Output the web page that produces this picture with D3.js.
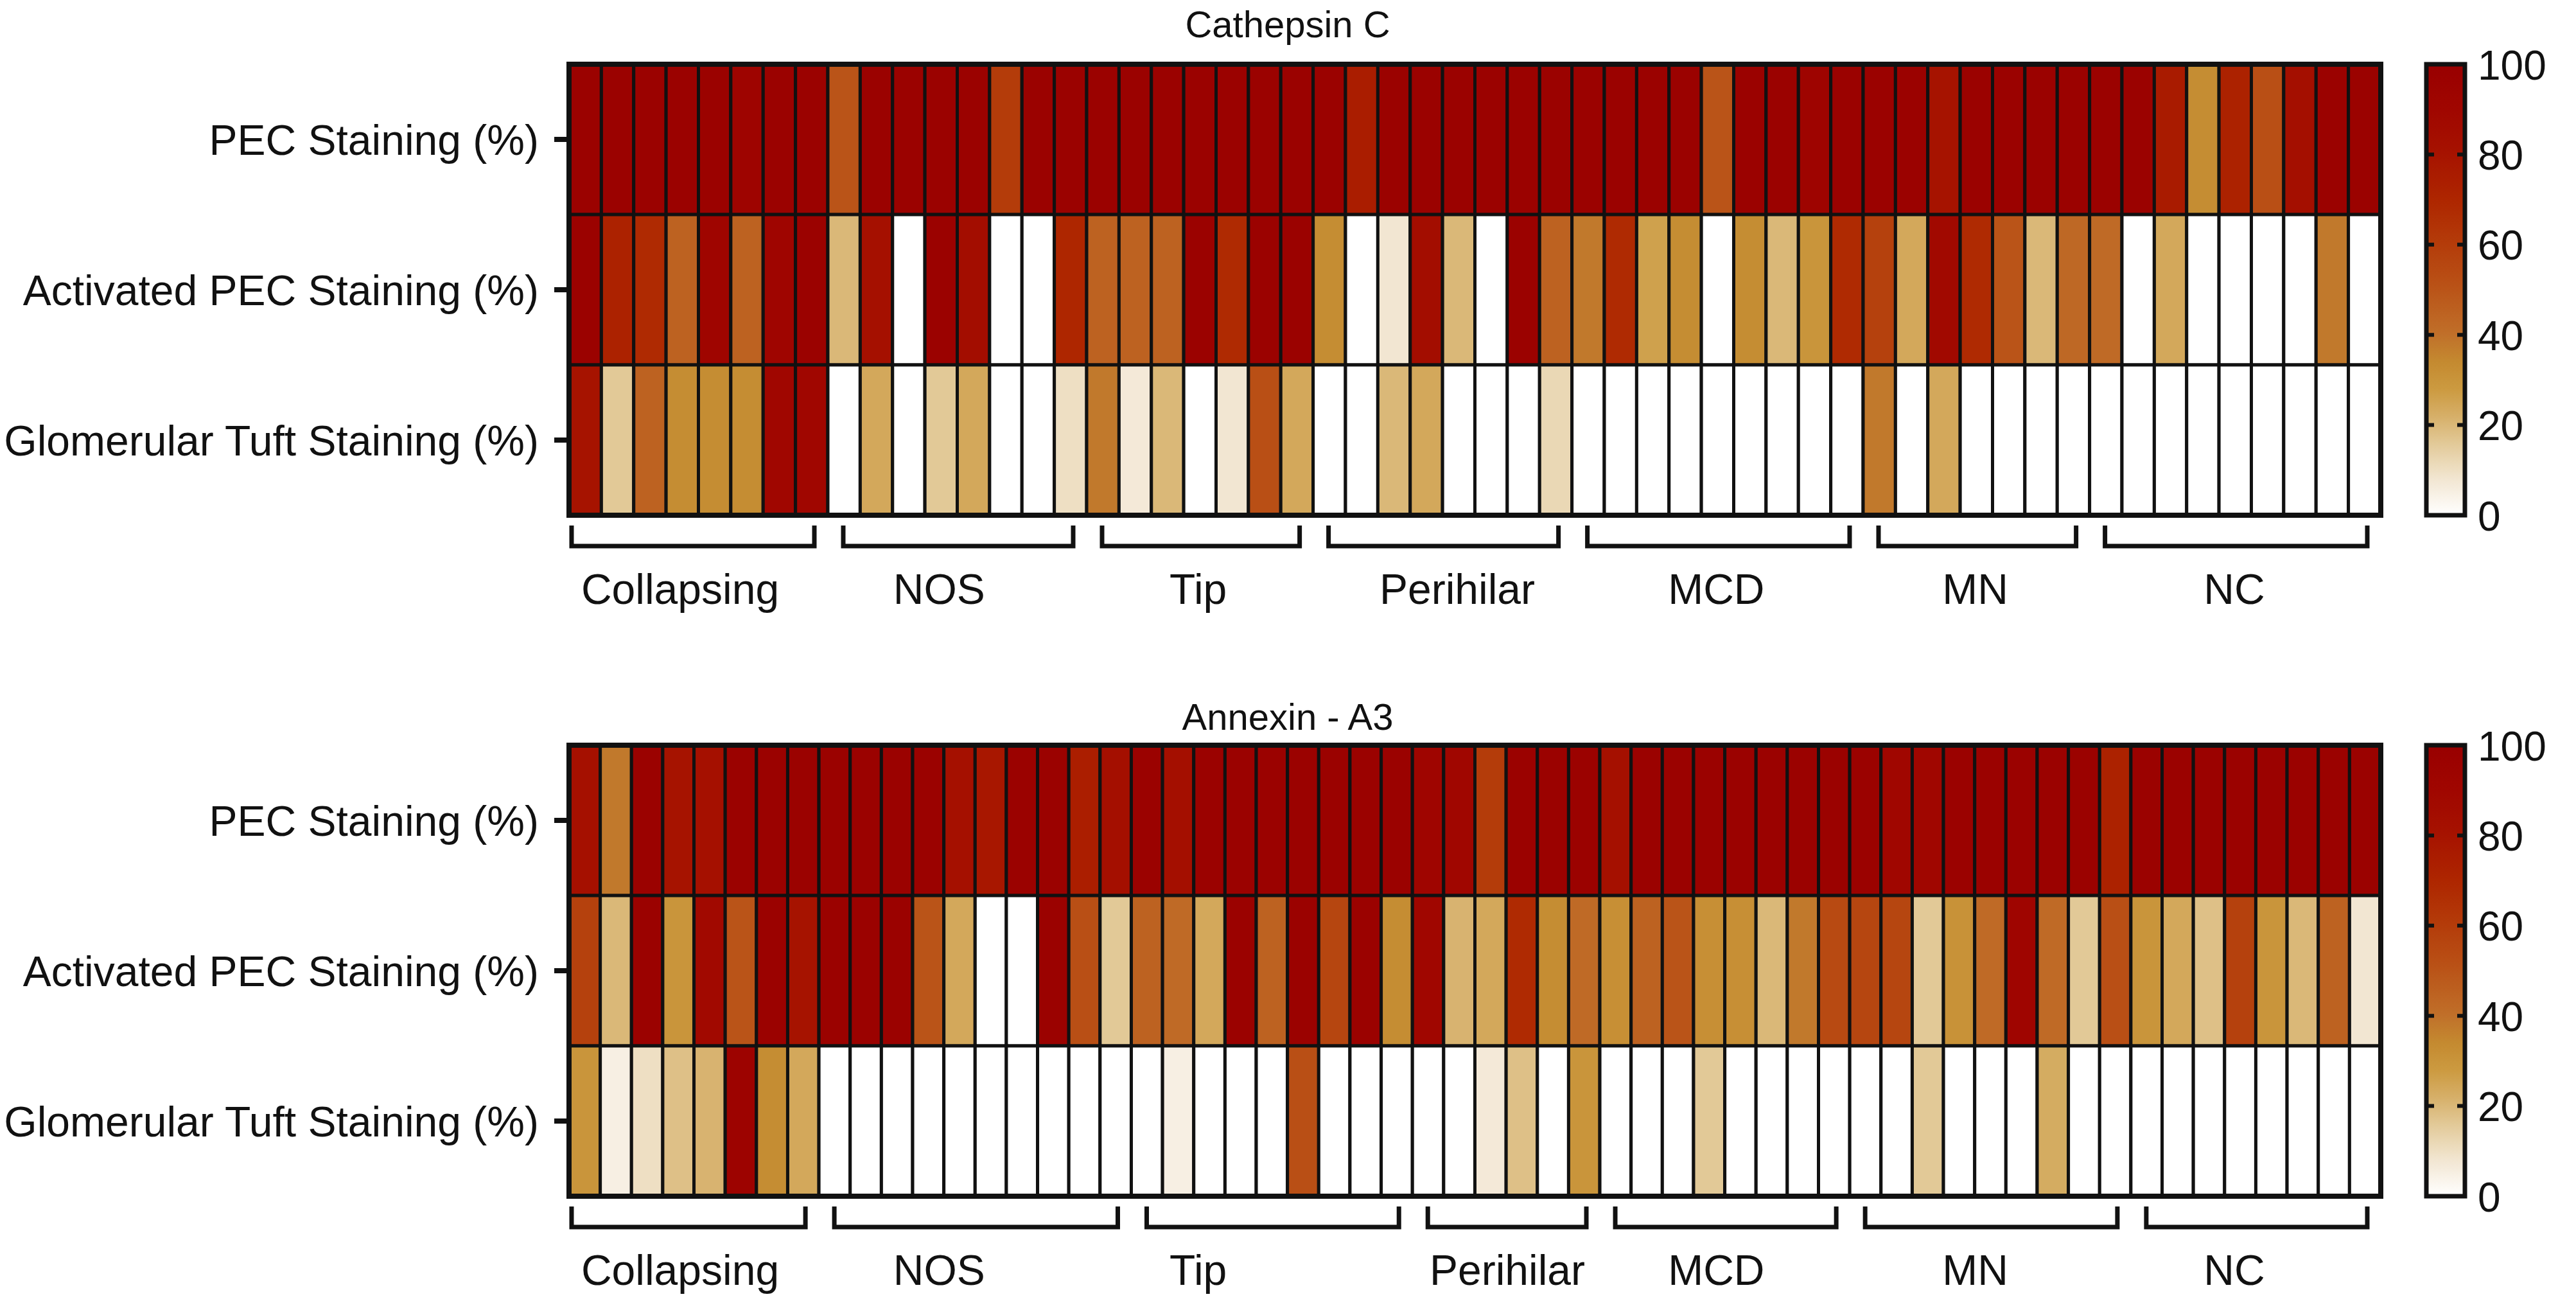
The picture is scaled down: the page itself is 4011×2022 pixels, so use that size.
<!DOCTYPE html>
<meta charset="utf-8">
<head>
<script src="https://d3js.org/d3.v7.min.js"></script>
<style>
  body { margin: 0; background: #fff; }
  svg text { font-family: "Liberation Sans", Arial, Helvetica, sans-serif; fill: #111; }
</style>
</head>
<body>
<svg id="chart" width="4011" height="2022"></svg>
<script>
// rows and groups (same for both panels)
var rowLabels = ["PEC Staining (%)", "Activated PEC Staining (%)", "Glomerular Tuft Staining (%)"];
var groupNames = ["Collapsing", "NOS", "Tip", "Perihilar", "MCD", "MN", "NC"];
var colorTicks = [0, 20, 40, 60, 80, 100];

// Cathepsin C, 56 biopsies
var cathepsinGroupSizes = [8, 8, 7, 8, 9, 7, 9];
var cathepsinPEC = [97, 97, 97, 97, 97, 93, 97, 97, 50, 97, 97, 97, 97, 60, 97, 97,
  97, 97, 97, 97, 97, 97, 97, 97, 75, 97, 97, 97, 97, 97, 97, 97,
  97, 97, 97, 50, 97, 97, 93, 97, 97, 97, 80, 97, 97, 97, 97, 97,
  97, 76, 33, 72, 52, 83, 97, 97];
var cathepsinActivated = [97, 72, 68, 45, 92, 45, 92, 97, 20, 82, 0, 97, 85, 0, 0, 70,
  45, 45, 45, 97, 68, 97, 97, 33, 0, 8, 85, 20, 0, 97, 45, 38,
  68, 26, 33, 0, 33, 20, 30, 68, 58, 24, 88, 68, 50, 20, 43, 42,
  0, 24, 0, 0, 0, 0, 38, 0];
var cathepsinTuft = [80, 16, 45, 33, 33, 33, 90, 90, 0, 24, 0, 16, 24, 0, 0, 10,
  38, 7, 20, 0, 8, 52, 24, 0, 0, 20, 24, 0, 0, 0, 12, 0,
  0, 0, 0, 0, 0, 0, 0, 0, 38, 0, 24, 0, 0, 0, 0, 0,
  0, 0, 0, 0, 0, 0, 0, 0];

// Annexin - A3, 58 biopsies
var annexinGroupSizes = [8, 10, 9, 6, 8, 9, 8];
var annexinPEC = [82, 38, 97, 80, 82, 97, 97, 97, 97, 97, 97, 97, 82, 78, 97, 97,
  74, 83, 97, 83, 97, 97, 97, 97, 97, 97, 97, 92, 90, 60, 97, 97,
  97, 82, 97, 97, 97, 97, 97, 97, 97, 97, 90, 90, 97, 97, 97, 97,
  97, 72, 97, 97, 97, 97, 97, 97, 97, 97];
var annexinActivated = [58, 20, 97, 30, 88, 50, 97, 80, 97, 97, 97, 50, 24, 0, 0, 97,
  52, 16, 45, 42, 24, 97, 45, 97, 56, 97, 33, 90, 21, 24, 68, 33,
  42, 32, 45, 50, 32, 32, 20, 38, 54, 56, 56, 16, 31, 42, 92, 42,
  16, 52, 30, 24, 18, 58, 30, 20, 45, 8];
var annexinTuft = [30, 5, 10, 18, 21, 95, 33, 24, 0, 0, 0, 0, 0, 0, 0, 0,
  0, 0, 0, 5, 0, 0, 0, 52, 0, 0, 0, 0, 0, 7, 18, 0,
  30, 0, 0, 0, 16, 0, 0, 0, 0, 0, 0, 16, 0, 0, 0, 23,
  0, 0, 0, 0, 0, 0, 0, 0, 0, 0];

var svg = d3.select("#chart");

var left = 886, right = 3707, panelHeight = 702;

var color = d3.scaleLinear()
  .domain([0, 8, 16, 22, 28, 34, 40, 50, 60, 70, 80, 90, 100])
  .range(["#ffffff", "#f2e6d2", "#e2c997", "#d6af68", "#cc9a40", "#c48a30", "#c0702a",
          "#ba5418", "#b43c0a", "#ae2600", "#a61300", "#a00600", "#990000"]);

// group labels sit on an evenly spaced categorical axis under the map
var labelX = d3.scalePoint().domain(groupNames).range([1059, 3479]);

// gradient for the colour bars
var grad = svg.append("defs").append("linearGradient")
  .attr("id", "cbar").attr("x1", 0).attr("y1", 1).attr("x2", 0).attr("y2", 0);
grad.selectAll("stop")
  .data(d3.range(0, 101, 2))
  .enter().append("stop")
  .attr("offset", function(d) { return d + "%"; })
  .attr("stop-color", function(d) { return color(d); });

function drawPanel(title, titleY, series, groupSizes, top, nudge) {
  var n = series[0].length;
  var x = d3.scaleBand().domain(d3.range(n)).range([left, right]);
  var y = d3.scaleBand().domain(rowLabels).range([top, top + panelHeight]);
  var g = svg.append("g");

  g.append("text")
    .attr("x", 2005).attr("y", titleY)
    .attr("text-anchor", "middle")
    .attr("font-size", 58)
    .text(title);

  // cells
  series.forEach(function(values, r) {
    g.selectAll(null)
      .data(values)
      .enter().append("rect")
      .attr("x", function(d, i) { return x(i); })
      .attr("y", y(rowLabels[r]))
      .attr("width", x.bandwidth())
      .attr("height", y.bandwidth())
      .attr("fill", function(d) { return color(d); })
      .attr("stroke", "#111")
      .attr("stroke-width", 5);
  });

  g.append("rect")
    .attr("x", left).attr("y", top)
    .attr("width", right - left).attr("height", panelHeight)
    .attr("fill", "none").attr("stroke", "#111").attr("stroke-width", 8);

  // row labels
  var yAxis = g.append("g")
    .attr("transform", "translate(" + (left - 3) + ",0)")
    .call(d3.axisLeft(y).tickSize(20).tickPadding(24));
  yAxis.select(".domain").remove();
  yAxis.selectAll(".tick line").attr("stroke", "#111").attr("stroke-width", 8);
  yAxis.selectAll(".tick text").attr("font-size", 66).attr("dy", "0.36em");

  // group brackets
  var b0 = top + panelHeight + 16, b1 = top + panelHeight + 48;
  var start = 0;
  groupSizes.forEach(function(size, k) {
    var x0 = x(start) + (k === 0 ? 4 : 24);
    var x1 = x(start + size - 1) + x.bandwidth() - 21;
    g.append("path")
      .attr("d", "M" + x0 + "," + b0 + "V" + b1 + "H" + x1 + "V" + b0)
      .attr("fill", "none").attr("stroke", "#111").attr("stroke-width", 7);
    g.append("text")
      .attr("x", labelX(groupNames[k]) + (nudge[k] || 0))
      .attr("y", top + panelHeight + 138)
      .attr("text-anchor", "middle")
      .attr("font-size", 66)
      .text(groupNames[k]);
    start += size;
  });

  // colour bar
  var cx = 3778, cw = 60;
  var c = d3.scaleLinear().domain([0, 100]).range([top + panelHeight, top]);
  g.append("rect")
    .attr("x", cx).attr("y", top)
    .attr("width", cw).attr("height", panelHeight)
    .attr("fill", "url(#cbar)");
  g.selectAll(null)
    .data(colorTicks.slice(1, -1))
    .enter().append("path")
    .attr("d", function(d) {
      return "M" + cx + "," + c(d) + "h12M" + (cx + cw) + "," + c(d) + "h-12";
    })
    .attr("stroke", "#111").attr("stroke-width", 6);
  g.append("rect")
    .attr("x", cx).attr("y", top)
    .attr("width", cw).attr("height", panelHeight)
    .attr("fill", "none").attr("stroke", "#111").attr("stroke-width", 7);
  var cAxis = g.append("g")
    .attr("transform", "translate(" + (cx + cw) + ",0)")
    .call(d3.axisRight(c).tickValues(colorTicks).tickSize(0).tickPadding(20));
  cAxis.select(".domain").remove();
  cAxis.selectAll(".tick text").attr("font-size", 64).attr("dy", "0.36em");
}

drawPanel("Cathepsin C", 58, [cathepsinPEC, cathepsinActivated, cathepsinTuft], cathepsinGroupSizes, 100, {});
drawPanel("Annexin - A3", 1136, [annexinPEC, annexinActivated, annexinTuft], annexinGroupSizes, 1160, {3: 78});
</script>
</body>
